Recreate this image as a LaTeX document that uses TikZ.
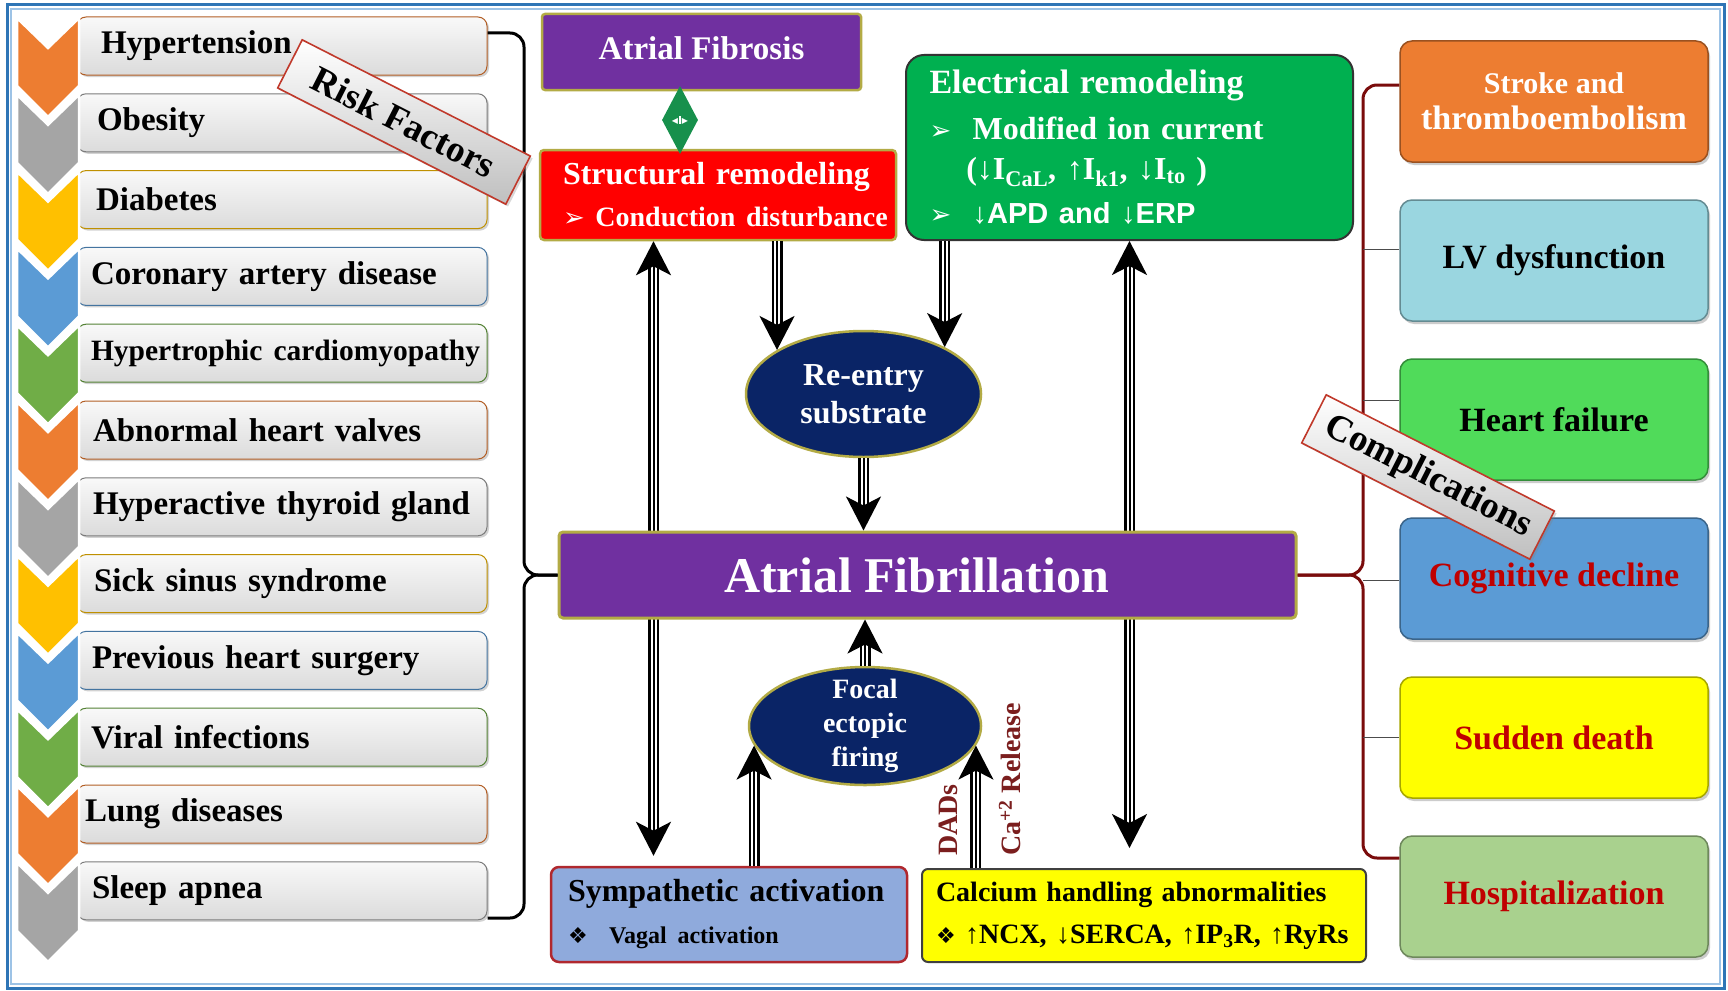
\documentclass[tikz,border=0pt]{standalone}
\usepackage{fontspec}
\setmainfont{Liberation Serif}
\newfontfamily\dingfont{DejaVu Sans}
\newfontfamily\arialfont{Liberation Sans}
\usepackage{tikz}
\usetikzlibrary{positioning,calc,shapes.geometric,shadows,arrows.meta}

\definecolor{afPurple}{HTML}{7030A0}
\definecolor{goldEdge}{HTML}{B3AB45}
\definecolor{srRed}{HTML}{FF0000}
\definecolor{erGreen}{HTML}{00B050}
\definecolor{navyFill}{HTML}{0A2466}
\definecolor{sympBlue}{HTML}{8FAADC}
\definecolor{sympEdge}{HTML}{B0282E}
\definecolor{caYellow}{HTML}{FFFF00}
\definecolor{linkGreen}{HTML}{17904C}
\definecolor{rfOrange}{HTML}{ED7D31}
\definecolor{rfGray}{HTML}{A5A5A5}
\definecolor{rfYellow}{HTML}{FFC000}
\definecolor{rfBlue}{HTML}{5B9BD5}
\definecolor{rfGreen}{HTML}{70AD47}
\definecolor{cStroke}{HTML}{ED7D31}
\definecolor{cLV}{HTML}{9AD6E0}
\definecolor{cHF}{HTML}{50DB5A}
\definecolor{cCog}{HTML}{5B9BD5}
\definecolor{cSud}{HTML}{FFFF00}
\definecolor{cHosp}{HTML}{A9D18E}
\definecolor{darkRed}{HTML}{C00000}
\definecolor{braceRed}{HTML}{7A0C0C}
\definecolor{labelRed}{HTML}{7B1E1E}
\definecolor{tagRed}{HTML}{C0392B}
\definecolor{frameBlue}{HTML}{2E75B6}
\definecolor{frameLight}{HTML}{9DC3E6}

\tikzset{%
    riskbox/.style={rounded corners=9pt, minimum width=410pt, minimum height=58pt,
        top color=gray!5, bottom color=gray!28, line width=1pt,
        drop shadow={opacity=.35, shadow xshift=2pt, shadow yshift=-2pt},
        text width=382pt, inner xsep=14pt, align=left,
        font=\fontsize{33}{36}\selectfont\bfseries},
    tagbox/.style={draw=tagRed, line width=1.6pt, top color=white, bottom color=gray!50,
        minimum width=256pt, minimum height=54pt, inner sep=2pt,
        drop shadow={opacity=.3}, font=\fontsize{37}{37}\selectfont\bfseries},
    fibbox/.style={fill=afPurple, draw=goldEdge, line width=2.5pt, rounded corners=3pt,
        minimum width=319pt, minimum height=76pt, text=white,
        font=\fontsize{33}{36}\selectfont\bfseries},
    structbox/.style={fill=srRed, draw=goldEdge, line width=2.5pt, rounded corners=4pt,
        minimum width=356pt, minimum height=90pt, text width=326pt, inner xsep=15pt,
        align=left, text=white, font=\fontsize{32}{42}\selectfont\bfseries},
    elecbox/.style={fill=erGreen, draw=black!80, line width=2pt, rounded corners=18pt,
        minimum width=447pt, minimum height=185pt, text width=400pt, inner xsep=23pt,
        align=left, text=white, font=\fontsize{32}{40}\selectfont\bfseries},
    navyell/.style={ellipse, fill=navyFill, draw=goldEdge, line width=2.5pt,
        inner sep=-12pt, align=center, text=white},
    afbox/.style={fill=afPurple, draw=goldEdge, line width=3pt, rounded corners=4pt,
        minimum width=737pt, minimum height=86pt, text=white,
        font=\fontsize{50}{50}\selectfont\bfseries},
    sympbox/.style={fill=sympBlue, draw=sympEdge, line width=2.5pt, rounded corners=8pt,
        minimum width=356pt, minimum height=95pt, text width=322pt, inner xsep=17pt,
        align=left, font=\fontsize{32}{42}\selectfont\bfseries},
    calcbox/.style={fill=caYellow, draw=black!75, line width=2pt, rounded corners=6pt,
        minimum width=444pt, minimum height=93pt, text width=416pt, inner xsep=14pt,
        align=left, font=\fontsize{28}{42}\selectfont\bfseries},
    compbox/.style={rounded corners=12pt, minimum width=308pt, minimum height=121pt,
        align=center, line width=1.5pt,
        drop shadow={opacity=.4, shadow xshift=2pt, shadow yshift=-3pt},
        font=\fontsize{34}{36}\selectfont\bfseries},
    dadlabel/.style={rotate=90, text=labelRed, inner sep=1pt,
        font=\fontsize{28}{28}\selectfont\bfseries},
    riskbrace/.style={draw=black, line width=3pt, rounded corners=14pt},
    compbrace/.style={draw=braceRed, line width=3pt, rounded corners=14pt},
    thinlink/.style={draw=black!70, line width=1pt}
}

\newcommand{\flowto}[2]{%
    \draw[line width=11pt, shorten >=24pt] #1 -- #2;
    \draw[white, line width=6pt, shorten >=22pt] #1 -- #2;
    \draw[line width=2pt, -{Stealth[length=34pt,width=35pt,inset=9pt]}] #1 -- #2;
}
\newcommand{\flowboth}[2]{%
    \draw[line width=11pt, shorten >=24pt, shorten <=24pt] #1 -- #2;
    \draw[white, line width=6pt, shorten >=22pt, shorten <=22pt] #1 -- #2;
    \draw[line width=2pt, {Stealth[length=34pt,width=35pt,inset=9pt]}-{Stealth[length=34pt,width=35pt,inset=9pt]}] #1 -- #2;
}
\newcommand{\pointer}{{\dingfont\fontsize{26}{26}\selectfont ➢}}
\newcommand{\bullitem}{{\dingfont\fontsize{22}{22}\selectfont ❖}}

\begin{document}
\begin{tikzpicture}[x=1pt, y=-1pt]
    \useasboundingbox (0,0) rectangle (1728,990);
    \fill[white] (0,0) rectangle (1728,990);
    \draw[frameBlue, line width=3pt] (7,5) rectangle (1724,988);
    \draw[frameLight, line width=1.5pt] (11,9) rectangle (1720,984);

    \foreach \txt/\col [count=\i] in {\hspace*{10pt}Hypertension/rfOrange, \hspace*{6pt}Obesity/rfGray,
        \hspace*{5pt}Diabetes/rfYellow, Coronary artery disease/rfBlue,
        {\fontsize{29.5}{30}\selectfont Hypertrophic cardiomyopathy}/rfGreen,
        \hspace*{2pt}Abnormal heart valves/rfOrange, \hspace*{2pt}Hyperactive thyroid gland/rfGray,
        \hspace*{3pt}Sick sinus syndrome/rfYellow, \hspace*{1pt}Previous heart surgery/rfBlue,
        Viral infections/rfGreen, \hspace*{-6pt}Lung diseases/rfOrange, \hspace*{1pt}Sleep apnea/rfGray}{
        \pgfmathsetmacro{\yc}{46+76.8*(\i-1)}
        \node[riskbox, draw=\col!75!black] (r\i) at (282,\yc) {\mbox{\txt}};
        \filldraw[fill=\col, draw=white, line width=2.5pt] (17,\yc-28) -- (48,\yc+2) -- (79,\yc-28)
            -- (79,\yc+40) -- (48,\yc+71) -- (17,\yc+40) -- cycle;
    }

    \node[fibbox] (fibrosis) at (701.5,52) {\raisebox{7pt}{Atrial Fibrosis}};
    \node[structbox] (struct) at (718,195) {\mbox{\hspace*{8pt}Structural remodeling}\\
        \mbox{\fontsize{28}{30}\selectfont\hspace*{8pt}\pointer\ Conduction disturbance}};
    \node[diamond, fill=linkGreen, minimum width=36pt, minimum height=68pt, inner sep=0pt,
        text=white, font=\dingfont\fontsize{8}{8}\selectfont] (fiblink) at (680,120) {◀\hspace{1pt}\rule[0pt]{1.8pt}{8pt}\hspace{1pt}▶};
    \node[elecbox] (elec) at (1129.5,147.5) {{\fontsize{34}{40}\selectfont Electrical remodeling}\\[6pt]
        \pointer\ \ Modified ion current\\
        \hspace*{1.15em}(↓I\textsubscript{CaL}, ↑I\textsubscript{k1}, ↓I\textsubscript{to} )\\[4pt]
        \pointer\ \ {\arialfont\fontsize{29}{32}\selectfont ↓APD and ↓ERP}};
    \node[navyell, minimum width=235pt, minimum height=126pt,
        font=\fontsize{32}{38}\selectfont\bfseries] (reentry) at (863.5,394) {Re-entry\\substrate};
    \node[navyell, minimum width=232pt, minimum height=118pt,
        font=\fontsize{28}{34}\selectfont\bfseries] (focal) at (865,726) {Focal\\ectopic\\firing};
    \node[sympbox] (symp) at (729,914.5) {\mbox{Sympathetic activation}\\
        {\fontsize{24}{26}\selectfont\bullitem\ \ Vagal activation}};
    \node[calcbox] (calc) at (1144,915.5) {\mbox{Calcium handling abnormalities}\\
        \mbox{\bullitem\ ↑NCX, ↓SERCA, ↑IP\textsubscript{3}R, ↑RyRs}};

    \flowboth{(struct.south -| 653.5,0)}{($(symp.north -| 653.5,0)+(0,-10)$)}
    \flowboth{(elec.south)}{($(calc.north -| elec.south)+(0,-20)$)}
    \flowto{(struct.south -| reentry.153)}{(reentry.153)}
    \flowto{(elec.south -| reentry.30)}{(reentry.30)}
    \flowto{(symp.north -| focal.190)}{(focal.190)}
    \flowto{(calc.north -| focal.350)}{(focal.350)}
    \node[dadlabel, anchor=west] (dads) at (948,857) {DADs};
    \node[dadlabel, anchor=west] (carelease) at (1010,857) {Ca\textsuperscript{+2} Release};

    \node[afbox] (af) at (927.5,575) {\hspace*{-22pt}Atrial Fibrillation};
    \flowto{(reentry.south)}{(reentry.south |- af.north)}
    \flowto{(focal.north)}{(focal.north |- af.south)}

    \draw[riskbrace] (r1.east |- 0,33) -| (524,575) -- (af.west);
    \draw[riskbrace] (af.west) -| (524,918) -- (r12.east |- 0,918);
    \node[tagbox, rotate=-27] (riskfac) at (404,122) {Risk Factors};

    \foreach \txt/\col/\tc [count=\i] in {{\fontsize{30}{33}\selectfont Stroke and\\thromboembolism}/cStroke/white,
        LV dysfunction/cLV/black, Heart failure/cHF/black, Cognitive decline/cCog/darkRed,
        Sudden death/cSud/darkRed, Hospitalization/cHosp/darkRed}{
        \node[compbox, fill=\col, draw=\col!65!black, text=\tc] (c\i) at (1554,{101.5+159*(\i-1)}) {\txt};
    }
    \draw[compbrace] (c1.west |- 0,85) -| (1363,575) -- (af.east);
    \draw[compbrace] (af.east) -| (1363,858) -- (c6.west |- 0,858);
    \foreach \i/\yy in {2/249, 3/400, 4/580, 5/737}
        \draw[thinlink] (1363,\yy) -- (c\i.west |- 0,\yy);
    \node[tagbox, rotate=-27] (comp) at (1428,477) {Complications};
\end{tikzpicture}
\end{document}
